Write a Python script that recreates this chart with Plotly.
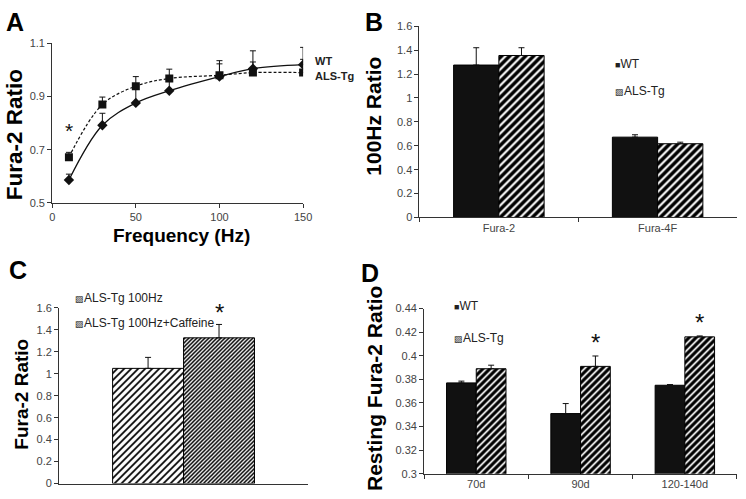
import math
import plotly.graph_objects as go

W, H = 746, 499

# ---------------- data ----------------
# Panel A
freq = [10, 30, 50, 70, 100, 120, 150]
a_wt = [0.586, 0.792, 0.876, 0.922, 0.975, 1.005, 1.020]
a_wt_err = [0.022, 0.045, 0.060, 0.045, 0.048, 0.067, 0.065]
a_als = [0.672, 0.870, 0.939, 0.968, 0.980, 0.990, 0.990]
a_als_err = [0.018, 0.028, 0.036, 0.035, 0.055, 0.040, 0.050]

# Panel B
b_cats = ["Fura-2", "Fura-4F"]
b_wt = [1.275, 0.672]
b_wt_err = [0.145, 0.020]
b_als = [1.355, 0.617]
b_als_err = [0.065, 0.013]

# Panel C
c_cat = ["ALS-Tg"]
c_100 = [1.049]
c_100_err = [0.100]
c_caf = [1.327]
c_caf_err = [0.122]

# Panel D
d_cats = ["70d", "90d", "120-140d"]
d_wt = [0.377, 0.351, 0.375]
d_wt_err = [0.0015, 0.0085, 0.0006]
d_als = [0.389, 0.391, 0.416]
d_als_err = [0.003, 0.0088, 0.0008]

FONT = "Liberation Sans, Arial, sans-serif"
INK = "#111111"
AX = "#333333"
TICKC = "#444444"


def px(x):
    return x / W


def py(y):
    return 1 - y / H


def tile(period):
    # plotly's "/" pattern tile is size*sqrt(2) wide; pick size so the tile is whole pixels
    return period / math.sqrt(2)


def up_err(arr):
    return dict(type="data", array=arr, arrayminus=[0] * len(arr), symmetric=False,
                color=INK, thickness=1, width=3)


def hatch(period, solidity):
    return dict(color="white", line=dict(color="black", width=1),
                pattern=dict(shape="/", fillmode="replace", fgcolor="#000000",
                             bgcolor="#ffffff", fgopacity=1,
                             size=tile(period), solidity=solidity))


fig = go.Figure()

# ---------------- Panel A ----------------
fig.add_trace(go.Scatter(
    x=freq, y=a_wt, mode="lines+markers", name="WT", showlegend=False,
    line=dict(color=INK, width=1.3, shape="spline", smoothing=1.0),
    marker=dict(symbol="diamond", size=8, color=INK),
    error_y=up_err(a_wt_err), xaxis="x", yaxis="y"))
fig.add_trace(go.Scatter(
    x=freq, y=a_als, mode="lines+markers", name="ALS-Tg", showlegend=False,
    line=dict(color=INK, width=1.2, shape="spline", smoothing=1.0, dash="3px,2px"),
    marker=dict(symbol="square", size=8, color=INK),
    error_y=up_err(a_als_err), xaxis="x", yaxis="y"))

# ---------------- Panel B ----------------
fig.add_trace(go.Bar(
    x=b_cats, y=b_wt, name="WT", showlegend=False,
    marker=dict(color=INK, line=dict(color="black", width=1)),
    error_y=up_err(b_wt_err), xaxis="x2", yaxis="y2"))
fig.add_trace(go.Bar(
    x=b_cats, y=b_als, name="ALS-Tg", showlegend=False,
    marker=hatch(8, 0.62),
    error_y=up_err(b_als_err), xaxis="x2", yaxis="y2"))

# ---------------- Panel C ----------------
fig.add_trace(go.Bar(
    x=c_cat, y=c_100, name="ALS-Tg 100Hz", showlegend=False,
    marker=hatch(7, 0.35),
    error_y=up_err(c_100_err), xaxis="x3", yaxis="y3"))
fig.add_trace(go.Bar(
    x=c_cat, y=c_caf, name="ALS-Tg 100Hz+Caffeine", showlegend=False,
    marker=hatch(4, 0.55),
    error_y=up_err(c_caf_err), xaxis="x3", yaxis="y3"))

# ---------------- Panel D ----------------
fig.add_trace(go.Bar(
    x=d_cats, y=d_wt, name="WT", showlegend=False,
    marker=dict(color=INK, line=dict(color="black", width=1)),
    error_y=up_err(d_wt_err), xaxis="x4", yaxis="y4"))
fig.add_trace(go.Bar(
    x=d_cats, y=d_als, name="ALS-Tg", showlegend=False,
    marker=hatch(7, 0.65),
    error_y=up_err(d_als_err), xaxis="x4", yaxis="y4"))

axis_common = dict(showline=True, linecolor=AX, linewidth=1, showgrid=False, zeroline=False,
                   ticks="outside", ticklen=4, tickcolor=AX, tickwidth=1,
                   tickfont=dict(family=FONT, size=11, color=TICKC))

fig.update_layout(
    width=W, height=H, margin=dict(l=0, r=0, t=0, b=0),
    paper_bgcolor="white", plot_bgcolor="white",
    font=dict(family=FONT, color=INK),
    barmode="group", bargap=0.43, bargroupgap=0,
    xaxis=dict(domain=[px(50), px(305)], range=[0, 150], tick0=0, dtick=50, anchor="y",
               **axis_common),
    yaxis=dict(domain=[py(201.7), py(38.3)], range=[0.5, 1.1], tick0=0.5, dtick=0.2,
               anchor="x", **axis_common),
    xaxis2=dict(domain=[px(423.3), 1.0], type="category", tickson="boundaries", anchor="y2",
                **axis_common),
    yaxis2=dict(domain=[py(216.7), py(20.7)], range=[0, 1.6], dtick=0.2, anchor="x2",
                **axis_common),
    xaxis3=dict(domain=[px(57), px(310)], type="category", anchor="y3", showline=True,
                linecolor=AX, linewidth=1, showgrid=False, zeroline=False, ticks="",
                showticklabels=False),
    yaxis3=dict(domain=[py(489.3), py(309.3)], range=[0, 1.6], dtick=0.2, anchor="x3",
                **axis_common),
    xaxis4=dict(domain=[px(428), 1.0], type="category", tickson="boundaries", anchor="y4",
                **axis_common),
    yaxis4=dict(domain=[py(479.3), py(310)], range=[0.3, 0.44], tick0=0.3, dtick=0.02,
                anchor="x4", **axis_common),
)

ann = []


def label(text, x, y, size, bold=True, angle=0):
    t = f"<b>{text}</b>" if bold else text
    ann.append(dict(text=t, x=px(x), y=py(y), xref="paper", yref="paper",
                    xanchor="center", yanchor="middle", showarrow=False, textangle=angle,
                    font=dict(family=FONT, size=size, color="black")))


# panel letters
label("A", 12, 16, 25)
label("B", 377, 16, 25)
label("C", 15, 271, 25)
label("D", 373, 274, 25)

# axis titles
label("Fura-2 Ratio", 12, 131.7, 22.5, angle=-90)
label("Frequency (Hz)", 181, 235, 19)
label("100Hz Ratio", 377, 112.5, 21, angle=-90)
label("Fura-2 Ratio", 18.5, 398, 19, angle=-90)
label("Resting Fura-2 Ratio", 377, 391.5, 21, angle=-90)

# Panel A series labels
ann.append(dict(text="<b>WT</b>", x=1.0, y=1.032, xref="x domain", yref="y", xanchor="left",
                yanchor="middle", xshift=10, showarrow=False,
                font=dict(family=FONT, size=11, color="#222")))
ann.append(dict(text="<b>ALS-Tg</b>", x=1.0, y=0.977, xref="x domain", yref="y", xanchor="left",
                yanchor="middle", xshift=10, showarrow=False,
                font=dict(family=FONT, size=11, color="#222")))

# significance stars
ann.append(dict(text="*", x=freq[0], y=0.79, xref="x", yref="y", xanchor="center",
                yanchor="middle", yshift=-5, showarrow=False,
                font=dict(family=FONT, size=21, color=INK)))
ann.append(dict(text="*", x=c_cat[0], y=c_caf[0] + c_caf_err[0], xref="x3", yref="y3",
                xanchor="center", yanchor="bottom", xshift=36, yshift=-4, showarrow=False,
                font=dict(family=FONT, size=24, color=INK)))
for i in (1, 2):
    ann.append(dict(text="*", x=d_cats[i], y=d_als[i] + d_als_err[i], xref="x4", yref="y4",
                    xanchor="center", yanchor="bottom", xshift=15, yshift=-2, showarrow=False,
                    font=dict(family=FONT, size=24, color=INK)))


# legends (small square icons)
def legend_item(icon, text, xref, yref, x, y):
    ann.append(dict(text=f"<span style='font-size:9px'>{icon}</span>{text}", x=x, y=y,
                    xref=xref, yref=yref, xanchor="left", yanchor="middle", showarrow=False,
                    font=dict(family=FONT, size=12, color="#222")))


legend_item("■", "WT", "x2 domain", "y2 domain", 0.608, 0.80)
legend_item("▨", "ALS-Tg", "x2 domain", "y2 domain", 0.608, 0.662)
legend_item("▨", "ALS-Tg 100Hz", "x3 domain", "y3 domain", 0.055, 1.057)
legend_item("▨", "ALS-Tg 100Hz+Caffeine", "x3 domain", "y3 domain", 0.055, 0.913)
legend_item("■", "WT", "x4 domain", "y4 domain", 0.088, 1.013)
legend_item("▨", "ALS-Tg", "x4 domain", "y4 domain", 0.088, 0.823)

fig.update_layout(annotations=ann)

fig.write_html("out.html", config={"displayModeBar": False},
               post_script="document.body.style.margin='0';document.body.style.overflow='hidden';")
